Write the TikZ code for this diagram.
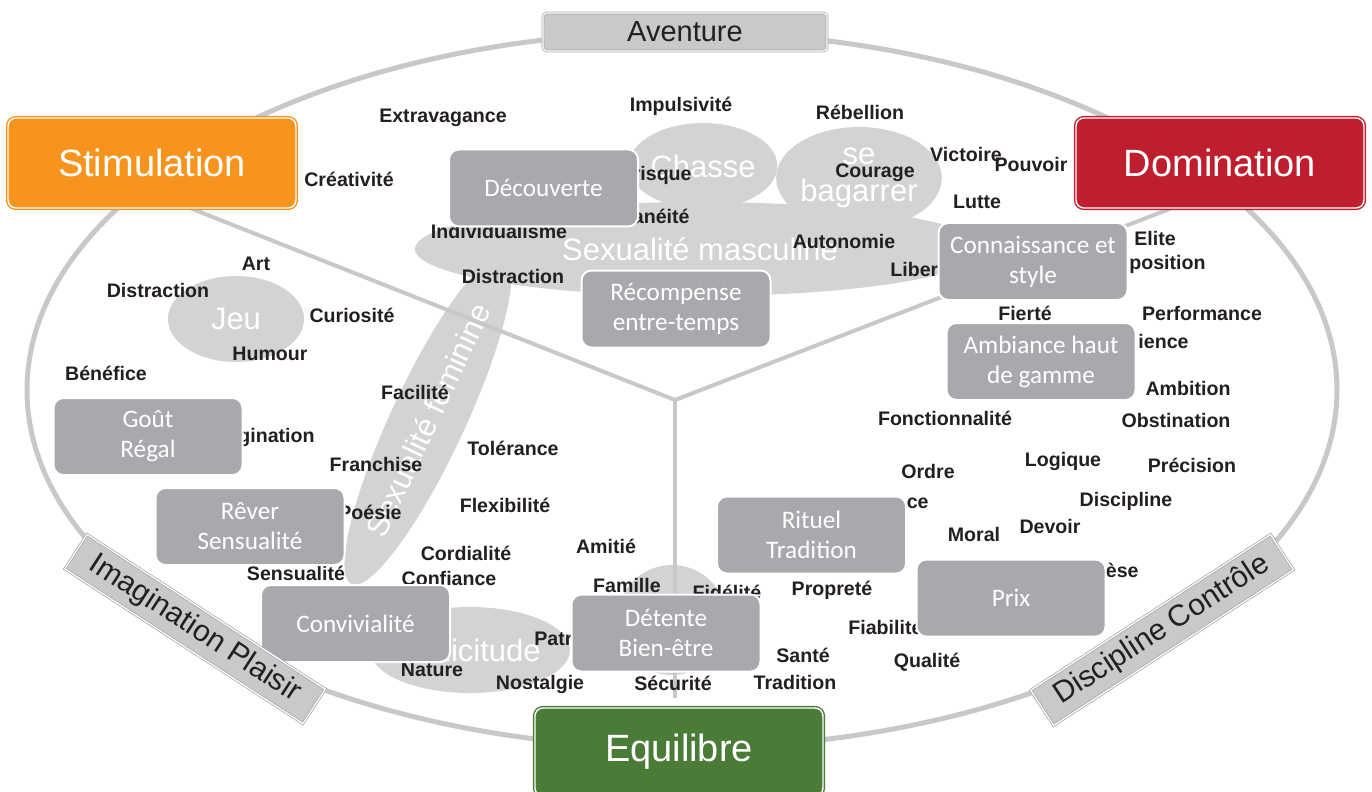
\documentclass[tikz,border=0pt]{standalone}
\usepackage{fontspec}
\setmainfont{Liberation Sans}
\newfontfamily\carlito{Carlito}
\usetikzlibrary{shapes.geometric}

\definecolor{cartegris}{HTML}{A7A9AC}
\definecolor{bullegris}{HTML}{D1D3D4}
\definecolor{traitgris}{HTML}{C7C8CA}
\definecolor{bandeaugris}{HTML}{C8C9CB}
\definecolor{bordgris}{HTML}{A9ABAE}
\definecolor{stimorange}{HTML}{F7941D}
\definecolor{domrouge}{HTML}{BE1E2D}
\definecolor{eqvert}{HTML}{4A7C38}
\definecolor{encre}{HTML}{231F20}

\tikzset{
  pole/.style={rectangle, rounded corners=4pt, line width=0.7pt, double=white,
    double distance=0.7pt, text=white, minimum width=144pt, minimum height=45pt,
    font=\fontsize{19}{22}\selectfont},
  bandeau/.style={rectangle, rounded corners=2pt, fill=bandeaugris, draw=bordgris,
    line width=0.4pt, double=white, double distance=0.6pt, text=encre,
    minimum width=142pt, minimum height=19pt, inner sep=0pt,
    font=\fontsize{14.5}{16}\selectfont},
  carte/.style={rectangle, rounded corners=5pt, fill=cartegris, draw=white,
    line width=1pt, text=white, minimum width=94.5pt, minimum height=38.5pt,
    align=center, inner sep=1pt, font=\carlito\fontsize{12.6}{15}\selectfont},
  bulle/.style={ellipse, fill=bullegris, text=white, inner sep=0pt, align=center,
    font=\fontsize{15.5}{19}\selectfont},
  mot/.style={text=encre, inner sep=0pt, font=\bfseries\fontsize{9.8}{11}\selectfont},
  trait/.style={draw=traitgris, line width=2pt}
}

\begin{document}
\begin{tikzpicture}[x=0.5pt, y=-0.5pt]
    \useasboundingbox (0,0) rectangle (1372,792);

    %%%%%%%%%% Bulles %%%%%%%%%%
    \node[bulle, minimum width=285pt, minimum height=47pt] (sexmasc) at (700,249) {Sexualité masculine};
    \node[bulle, minimum width=68pt, minimum height=43pt] (chasse) at (703,166) {Chasse};
    \node[bulle, minimum width=76pt, minimum height=51pt, font=\fontsize{15.5}{18.5}\selectfont] (bagarre) at (859,178) {se\\bagarrer};
    \node[bulle, minimum width=68pt, minimum height=43pt] (jeu) at (236,319) {Jeu};
    \node[bulle, minimum width=181pt, minimum height=37pt, rotate=65] (sexfem) at (428,420) {Sexualité feminine};
    \node[bulle, minimum width=90pt, minimum height=43pt] (sollicitude) at (470,650) {Sollicitude};
    \node[bulle, circle, minimum size=55pt] (cercle) at (672,620) {};

    %%%%%%%%%% Traits %%%%%%%%%%
    \draw[trait, line width=2.5pt] (682,390) ellipse [x radius=655, y radius=358];
    \coordinate (centre) at (675,400);
    \coordinate (brasG) at (190,208);
    \coordinate (brasD) at (1172,208);
    \coordinate (brasB) at (675,698);
    \draw[trait] (centre) -- (brasG);
    \draw[trait] (centre) -- (brasD);
    \draw[trait] (centre) -- (brasB);

    %%%%%%%%%% Mots %%%%%%%%%%
    \node[mot] (extravagance) at (443,118) {Extravagance};
    \node[mot] (creativite) at (349,179) {Créativité};
    \node[mot] (impulsivite) at (681,106) {Impulsivité};
    \node[mot] (rebellion) at (860,112) {Rébellion};
    \node[mot] (victoire) at (966,154) {Victoire};
    \node[mot] (pouvoir) at (1031,164) {Pouvoir};
    \node[mot] (courage) at (875,173) {Courage};
    \node[mot, anchor=east] (risque) at (692,175) {risque};
    \node[mot, anchor=east] (spontaneite) at (690,218) {Spontanéité};
    \node[mot] (individualisme) at (499,231) {Individualisme};
    \node[mot] (autonomie) at (844,241) {Autonomie};
    \node[mot, anchor=west] (liberte) at (890,269) {Liberté};
    \node[mot] (lutte) at (977,202) {Lutte};
    \node[mot] (elite) at (1155,238) {Elite};
    \node[mot, anchor=east] (position) at (1206,264) {position};
    \node[mot] (performance) at (1202,313) {Performance};
    \node[mot, anchor=east] (ience) at (1189,341) {ience};
    \node[mot] (fierte) at (1025,313) {Fierté};
    \node[mot] (ambition) at (1188,388) {Ambition};
    \node[mot] (obstination) at (1176,420) {Obstination};
    \node[mot] (fonctionnalite) at (945,418) {Fonctionnalité};
    \node[mot] (ordre) at (928,471) {Ordre};
    \node[mot] (logique) at (1063,461) {Logique};
    \node[mot] (precision) at (1192,465) {Précision};
    \node[mot] (disciplinemot) at (1126,501) {Discipline};
    \node[mot, anchor=east] (ce) at (929,503) {ce};
    \node[mot] (moral) at (974,534) {Moral};
    \node[mot] (devoir) at (1050,526) {Devoir};
    \node[mot, anchor=east] (ese) at (1139,570) {èse};
    \node[mot] (proprete) at (832,590) {Propreté};
    \node[mot, anchor=west] (fiabilite) at (848,627) {Fiabilité};
    \node[mot] (qualite) at (927,662) {Qualité};
    \node[mot] (sante) at (803,655) {Santé};
    \node[mot] (tradition) at (795,682) {Tradition};
    \node[mot] (securite) at (673,683) {Sécurité};
    \node[mot] (nostalgie) at (540,684) {Nostalgie};
    \node[mot] (nature) at (432,670) {Nature};
    \node[mot, anchor=west] (patrimoine) at (534,638) {Patrimoine};
    \node[mot] (famille) at (627,585) {Famille};
    \node[mot] (fidelite) at (727,592) {Fidélité};
    \node[mot] (amitie) at (606,546) {Amitié};
    \node[mot] (cordialite) at (466,553) {Cordialité};
    \node[mot] (confiance) at (449,578) {Confiance};
    \node[mot] (flexibilite) at (505,505) {Flexibilité};
    \node[mot] (tolerance) at (513,448) {Tolérance};
    \node[mot] (franchise) at (376,464) {Franchise};
    \node[mot] (facilite) at (415,392) {Facilité};
    \node[mot, anchor=east] (poesie) at (402,512) {Poésie};
    \node[mot] (sensualite) at (296,573) {Sensualité};
    \node[mot, anchor=east] (imaginationmot) at (315,437) {Imagination};
    \node[mot] (benefice) at (106,373) {Bénéfice};
    \node[mot] (distractionA) at (158,290) {Distraction};
    \node[mot] (art) at (256,264) {Art};
    \node[mot] (curiosite) at (352,315) {Curiosité};
    \node[mot] (humour) at (270,354) {Humour};
    \node[mot] (distractionB) at (513,276) {Distraction};

    %%%%%%%%%% Cartes %%%%%%%%%%
    \node[carte] (decouverte) at (543.5,188) {Découverte};
    \node[carte] (recompense) at (676,309) {Récompense\\entre-temps};
    \node[carte] (connaissance) at (1033,261.5) {Connaissance et\\style};
    \node[carte] (ambiance) at (1041,361.5) {Ambiance haut\\de gamme};
    \node[carte] (gout) at (148,436.5) {Goût\\Régal};
    \node[carte] (rever) at (250,526.5) {Rêver\\Sensualité};
    \node[carte] (convivialite) at (355.5,623.5) {Convivialité};
    \node[carte] (detente) at (666,633) {Détente\\Bien-être};
    \node[carte] (rituel) at (811.5,535) {Rituel\\Tradition};
    \node[carte] (prix) at (1011,598) {Prix};

    %%%%%%%%%% Pôles %%%%%%%%%%
    \node[bandeau] (aventure) at (685,32) {Aventure};
    \node[pole, fill=stimorange, draw=stimorange] (stimulation) at (152,163) {Stimulation};
    \node[pole, fill=domrouge, draw=domrouge] (domination) at (1220,163) {Domination};
    \node[pole, fill=eqvert, draw=eqvert, minimum height=44pt] (equilibre) at (679,752) {Equilibre};
    \node[bandeau, sharp corners, rotate=-33, minimum width=142pt, minimum height=20.5pt, font=\fontsize{15}{17}\selectfont] (imagination) at (195,629) {Imagination Plaisir};
    \node[bandeau, sharp corners, rotate=33, minimum width=143pt, minimum height=21pt, font=\fontsize{15}{17}\selectfont] (discipline) at (1162,630) {Discipline Contrôle};
\end{tikzpicture}
\end{document}
